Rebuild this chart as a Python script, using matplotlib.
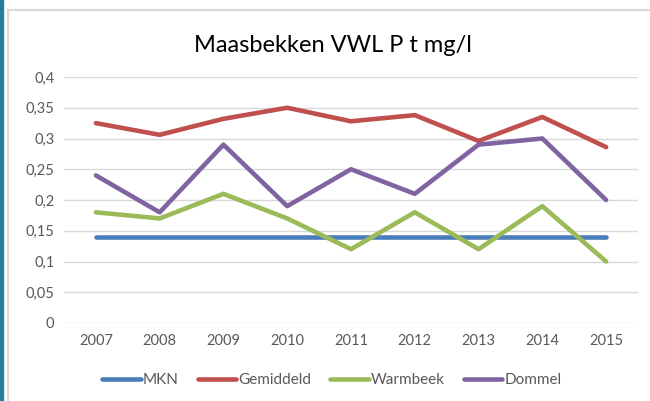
import matplotlib.pyplot as plt
from matplotlib.lines import Line2D
from matplotlib.patches import Rectangle
import numpy as np

from matplotlib import rcParams
rcParams['font.family'] = ['Lato', 'DejaVu Sans']

# data
years = ["2007", "2008", "2009", "2010", "2011", "2012", "2013", "2014", "2015"]
mkn = [0.14, 0.14, 0.14, 0.14, 0.14, 0.14, 0.14, 0.14, 0.14]
gemiddeld = [0.325, 0.306, 0.332, 0.350, 0.328, 0.338, 0.296, 0.335, 0.286]
warmbeek = [0.18, 0.17, 0.21, 0.17, 0.12, 0.18, 0.12, 0.19, 0.10]
dommel = [0.24, 0.18, 0.29, 0.19, 0.25, 0.21, 0.29, 0.30, 0.20]
yticks = [0, 0.05, 0.1, 0.15, 0.2, 0.25, 0.3, 0.35, 0.4]

series = [("MKN", mkn, "#4a7ebb"),
          ("Gemiddeld", gemiddeld, "#c0504d"),
          ("Warmbeek", warmbeek, "#9bbb59"),
          ("Dommel", dommel, "#8064a2")]

fig = plt.figure(figsize=(6.5, 4.01), dpi=100)

# screenshot frame: teal bar on the left, gray chart border
fig.patches.append(Rectangle((0, 0), 3/650, 1, transform=fig.transFigure,
                             color="#2a7b98", zorder=0))
fig.lines.append(Line2D([7.5/650, 7.5/650], [0, 1 - 9.5/401], transform=fig.transFigure,
                        color="#d9d9d9", lw=1.5))
fig.lines.append(Line2D([7.5/650, 1], [1 - 9.5/401, 1 - 9.5/401], transform=fig.transFigure,
                        color="#d9d9d9", lw=1.5))

ax = fig.add_axes([64/650, 1 - 323/401, 574/650, 246/401])
x = np.arange(len(years))
for name, vals, c in series:
    ax.plot(x, vals, color=c, lw=3.3, label=name, solid_capstyle="round")

ax.set_xlim(-0.5, len(years) - 0.5)
ax.set_ylim(0, 0.4)
ax.set_yticks(yticks)
ax.set_yticklabels([("%g" % v).replace(".", ",") for v in yticks])
ax.set_xticks(x)
ax.set_xticklabels(years)
ax.grid(axis="y", color="#d9d9d9", lw=1)
ax.set_axisbelow(True)
for s in ax.spines.values():
    s.set_visible(False)
ax.tick_params(length=0, labelsize=10.5, colors="#595959", pad=8)
ax.tick_params(axis="y", pad=7)

fig.text(333/650, 1 - 45/401, "Maasbekken VWL P t mg/l", ha="center", va="center",
         fontsize=17, color="#000000")

fig.legend(loc="center", bbox_to_anchor=(332/650, 1 - 380/401), ncol=4, frameon=False,
           fontsize=11, handlelength=2.5, handletextpad=0.15, columnspacing=1.25,
           labelcolor="#595959")

plt.savefig("out.png", dpi=100)
